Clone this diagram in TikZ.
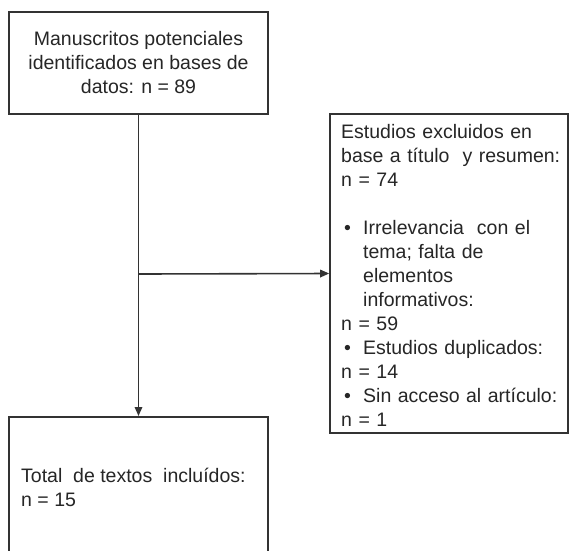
\documentclass[tikz,border=0pt]{standalone}
\usepackage{fontspec}
\setmainfont{Liberation Sans}
\usetikzlibrary{arrows.meta}
\definecolor{linec}{HTML}{333333}
\definecolor{textc}{HTML}{262626}
\begin{document}
\begin{tikzpicture}[x=1pt,y=-1pt,
  boxshape/.style={draw=linec, line width=1.6pt, inner sep=0pt},
  txt/.style={text=textc, inner sep=0pt, font=\fontsize{19.5}{24}\selectfont},
  conn/.style={draw=linec, line width=1.6pt, -{Triangle[length=9pt,width=7.5pt]}}]
\clip (0,0) rectangle (569,550);
\fill[white] (0,0) rectangle (569,550);
% top box
\node[boxshape, txt, align=center, minimum width=259pt, minimum height=102pt] (top) at (138.5,63)
  {Manuscritos potenciales\\identificados en bases de\\datos: n = 89};
% right box
\node[boxshape, minimum width=238pt, minimum height=319pt] (excl) at (449,273.5) {};
\node[txt, anchor=north west, align=left, text width=225pt] (excltext) at (341,124)
  {Estudios excluidos en\\
   base a título\ \ y resumen:\\
   n = 74\\[24pt]
   \makebox[22pt][l]{\hspace{3pt}•}Irrelevancia\ \ con el\\
   \hspace*{22pt}tema; falta de\\
   \hspace*{22pt}elementos\\
   \hspace*{22pt}informativos:\\
   n = 59\\
   \makebox[22pt][l]{\hspace{3pt}•}Estudios duplicados:\\
   n = 14\\
   \makebox[22pt][l]{\hspace{3pt}•}Sin acceso al artículo:\\
   n = 1};
% bottom box
\node[boxshape, minimum width=259pt, minimum height=170pt, anchor=north] (incl) at (138.5,416) {};
\node[txt, anchor=north west, align=left] (incltext) at (21,468)
  {Total\ \ de textos\ \ incluídos:\\n = 15};
% connectors
\coordinate (split) at (138.5,274);
\draw[conn] (top.south) -- (incl.north);
\draw[conn] (split) -- (excl.west);
\end{tikzpicture}
\end{document}
